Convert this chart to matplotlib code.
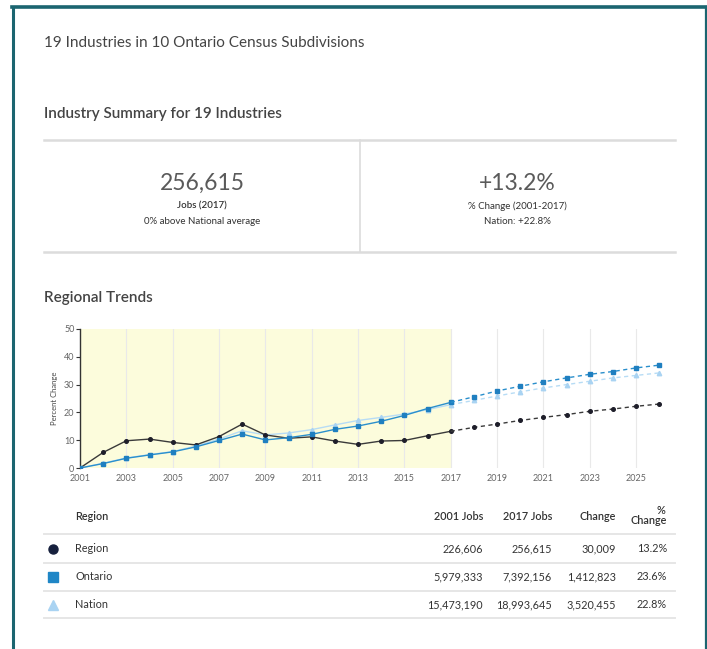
import matplotlib
matplotlib.use("Agg")
import matplotlib.pyplot as plt
from matplotlib.patches import Rectangle

plt.rcParams['font.family'] = ['Lato', 'DejaVu Sans']

# Chart data: percent change in jobs since 2001 (2018+ is projection)
years = list(range(2001, 2027))
region_pct = [0, 5.6, 9.8, 10.4, 9.2, 8.3, 11.3, 15.8, 11.9, 10.7, 11.2, 9.7, 8.5,
              9.7, 9.9, 11.6, 13.2, 14.6, 15.8, 17.1, 18.2, 19.2, 20.4, 21.2, 22.2, 23.0]
ontario_pct = [0, 1.6, 3.5, 4.7, 5.8, 7.6, 9.9, 12.2, 10.1, 10.9, 12.1, 13.9, 15.1,
               16.8, 18.9, 21.4, 23.6, 25.6, 27.7, 29.4, 31.0, 32.4, 33.7, 34.7, 36.0, 37.0]
nation_pct = [0, 1.7, 3.6, 4.8, 5.9, 7.9, 10.4, 13.4, 11.9, 12.6, 13.8, 15.5, 17.1,
              18.2, 19.4, 21.0, 22.8, 24.3, 25.9, 27.4, 28.8, 30.0, 31.2, 32.4, 33.3, 34.2]
last_actual = 2017

# Table data
table_regions = ["Region", "Ontario", "Nation"]
jobs_2001 = ["226,606", "5,979,333", "15,473,190"]
jobs_2017 = ["256,615", "7,392,156", "18,993,645"]
jobs_change = ["30,009", "1,412,823", "3,520,455"]
pct_change = ["13.2%", "23.6%", "22.8%"]

# Summary
summary_jobs = "256,615"
summary_pct = "+13.2%"

W, H = 707, 649
fig = plt.figure(figsize=(W / 100, H / 100), dpi=100)
fig.patch.set_facecolor("white")

# overlay in pixel coords for the page furniture
page = fig.add_axes([0, 0, 1, 1])
page.set_xlim(0, W)
page.set_ylim(H, 0)
page.axis("off")

border = "#1b6570"
page.plot([13, 13], [7, H], color=border, lw=2.2)
page.plot([12, 706], [7, 7], color=border, lw=2.6)
page.plot([705.5, 705.5], [7, H], color=border, lw=1.6)

txt = "#444444"
page.text(44, 43, "19 Industries in 10 Ontario Census Subdivisions", fontsize=11,
          color=txt, va="center")
page.text(44, 114, "Industry Summary for 19 Industries", fontsize=11, fontweight="semibold",
          color=txt, va="center")

grey_line = "#dcdcdc"
page.plot([44, 675], [140, 140], color=grey_line, lw=1.8)
page.plot([44, 675], [252, 252], color=grey_line, lw=1.8)
page.plot([360, 360], [140, 252], color=grey_line, lw=1.2)

big = "#5a5a5a"
small = "#333333"
page.text(202, 183, summary_jobs, fontsize=16.5, color=big, ha="center", va="center")
page.text(202, 206, "Jobs (2017)", fontsize=7, color=small, ha="center", va="center",
          fontweight="semibold")
page.text(202, 221, "0% above National average", fontsize=7, color=small,
          ha="center", va="center")
page.text(517, 183, summary_pct, fontsize=16.5, color=big, ha="center", va="center")
page.text(517, 206, "% Change (2001-2017)", fontsize=7, color=small, ha="center",
          va="center")
page.text(517, 221, "Nation: +22.8%", fontsize=7, color=small, ha="center", va="center")

page.text(44, 298, "Regional Trends", fontsize=11, fontweight="semibold", color=txt,
          va="center")

# table
tcol = "#333333"
tfs = 7.8
page.text(75, 516, "Region", fontsize=tfs, fontweight="semibold", color=tcol, va="center")
col_right = [483, 552, 616, 667]
for x, h in zip(col_right[:3], ["2001 Jobs", "2017 Jobs", "Change"]):
    page.text(x, 516, h, fontsize=tfs, fontweight="semibold", color=tcol, va="center", ha="right")
page.text(col_right[3] - 2, 510, "%", fontsize=tfs, fontweight="semibold", color=tcol,
          va="center", ha="right")
page.text(col_right[3], 521, "Change", fontsize=tfs, fontweight="semibold", color=tcol,
          va="center", ha="right")
for y in [534, 563, 591, 618]:
    page.plot([44, 675], [y, y], color="#e6e6e6", lw=1.4)

marker_style = [("o", "#16203d", 6.5), ("s", "#1f86c6", 6.5), ("^", "#a9d3f2", 6.5)]
row_y = [549, 577, 605]
for i, y in enumerate(row_y):
    m, c, s = marker_style[i]
    page.plot([53], [y], marker=m, color=c, markersize=s, linestyle="none")
    page.text(75, y, table_regions[i], fontsize=tfs, color=tcol, va="center")
    for x, v in zip(col_right, [jobs_2001[i], jobs_2017[i], jobs_change[i], pct_change[i]]):
        page.text(x, y, v, fontsize=tfs, color=tcol, va="center", ha="right")

# chart
x0, x1, yb, yt = 80, 666, 468, 329
ax = fig.add_axes([x0 / W, (H - yb) / H, (x1 - x0) / W, (yb - yt) / H])
px_per_year = (636 - 80) / 24
ax.set_xlim(2001, 2001 + (x1 - x0) / px_per_year)
ax.set_ylim(0, 50)
ax.patch.set_alpha(0)
ax.add_patch(Rectangle((2001, 0), last_actual - 2001, 50, color="#fcfcdc", zorder=0, lw=0))
for yr in range(2001, 2026, 2):
    ax.axvline(yr, color="#e9e9e9", lw=0.8, zorder=1)

split = years.index(last_actual) + 1
series = [
    (nation_pct, "#b7dcf5", "#a9d3f2", "^", 3.2),
    (region_pct, "#3a3a3a", "#1e1e2a", "o", 2.6),
    (ontario_pct, "#2a8fcc", "#1f7fc0", "s", 2.8),
]
for vals, lc, mc, m, ms in series:
    ax.plot(years[:split], vals[:split], color=lc, lw=1.0, marker=m, markersize=ms,
            markerfacecolor=mc, markeredgecolor=mc, zorder=3)
    ax.plot(years[split - 1:], vals[split - 1:], color=lc, lw=1.0, linestyle=(0, (3, 2.5)),
            zorder=3)
    ax.plot(years[split:], vals[split:], color=mc, marker=m, markersize=ms,
            linestyle="none", zorder=3)

ax.set_xticks(range(2001, 2026, 2))
ax.set_yticks(range(0, 51, 10))
ax.tick_params(axis="x", length=0, labelsize=6.5, labelcolor="#666666", pad=4)
ax.tick_params(axis="y", length=3, width=0.8, color="#333333", labelsize=6.5,
               labelcolor="#666666", pad=1)
for s in ["top", "right", "bottom"]:
    ax.spines[s].set_visible(False)
ax.spines["left"].set_color("#333333")
ax.spines["left"].set_linewidth(1.0)
ax.set_ylabel("Percent Change", fontsize=5.5, color="#444444", labelpad=4)

fig.savefig("out.png", dpi=100, facecolor="white")
